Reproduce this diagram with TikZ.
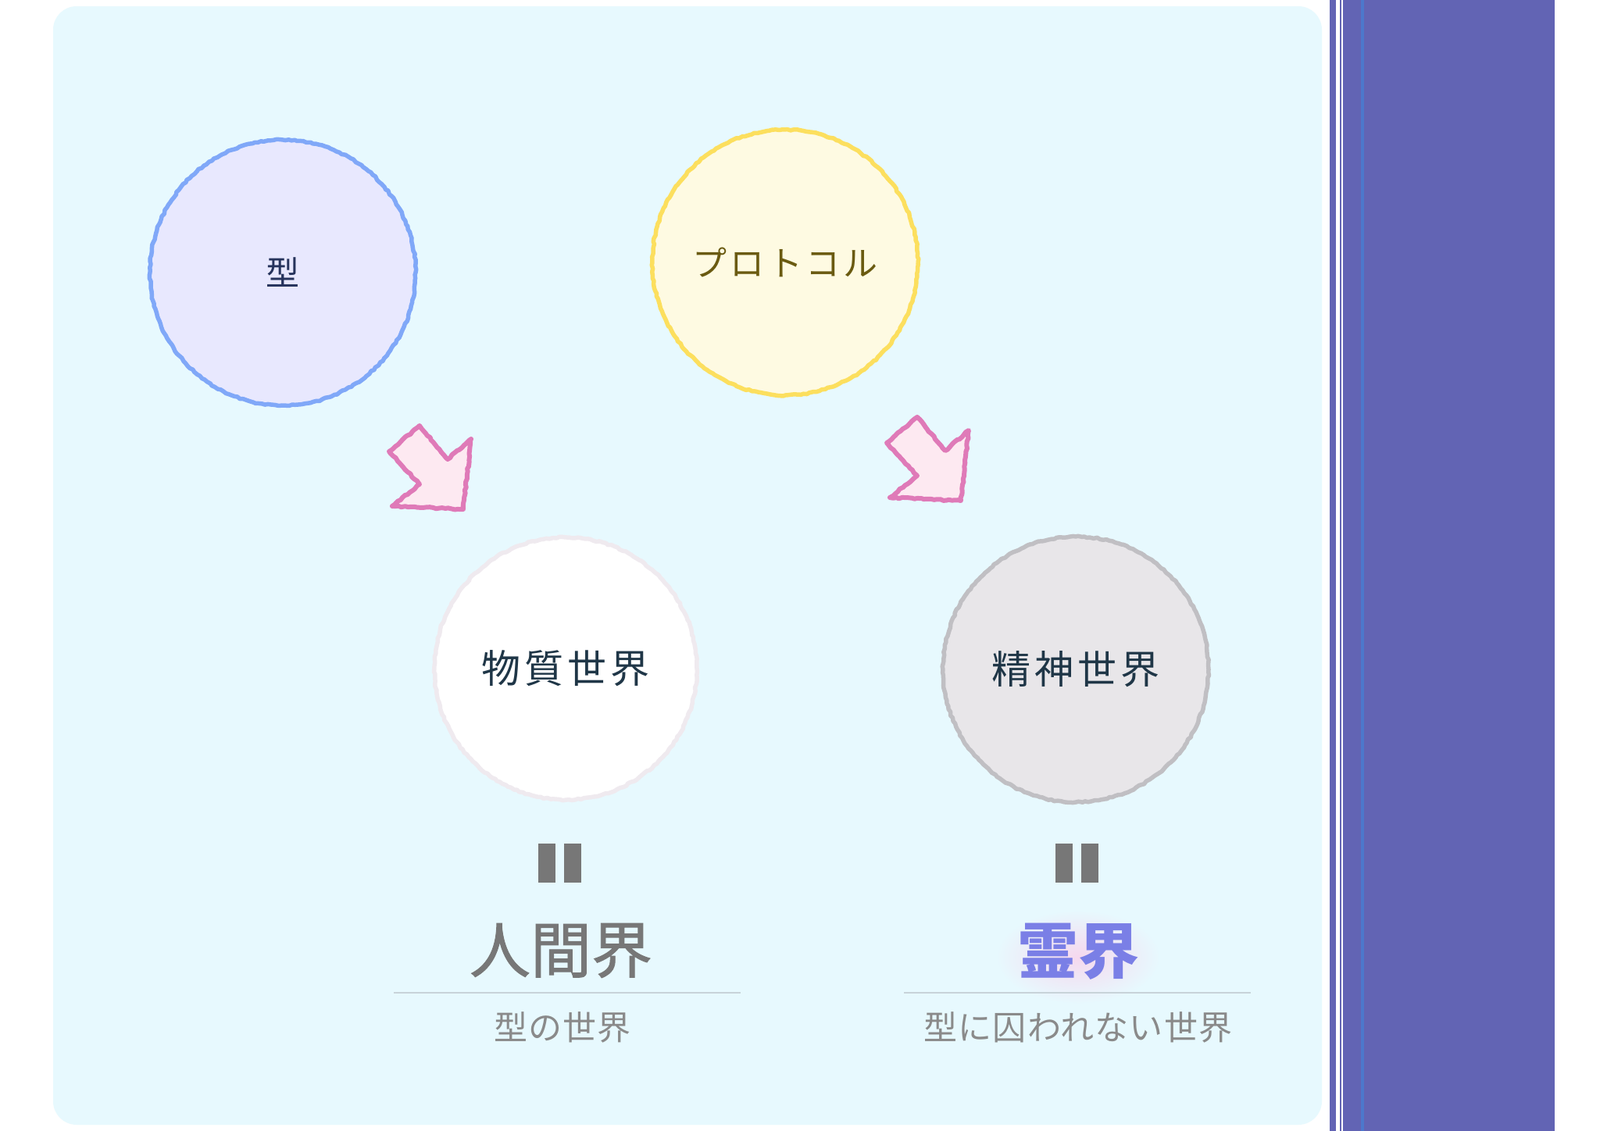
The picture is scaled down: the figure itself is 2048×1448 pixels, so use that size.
\documentclass[tikz,border=0pt]{standalone}
\usepackage{fontspec}
\setmainfont{Noto Sans CJK JP}
\newfontfamily\jpwide[LetterSpace=10]{Noto Sans CJK JP}
\newfontfamily\jpsub[LetterSpace=3]{Noto Sans CJK JP}
\newfontfamily\jpfat[FakeBold=1.2]{Noto Sans CJK JP}
\usetikzlibrary{decorations.pathmorphing}
\definecolor{panelbg}{HTML}{E7F9FE}
\definecolor{bandpurple}{HTML}{6264B4}
\definecolor{bandblue}{HTML}{4C78CC}
\definecolor{kataline}{HTML}{80A8F8}
\definecolor{katafill}{HTML}{E8E8FE}
\definecolor{katatext}{HTML}{26335C}
\definecolor{protoline}{HTML}{FCDF5E}
\definecolor{protofill}{HTML}{FEFAE2}
\definecolor{prototext}{HTML}{6A5A10}
\definecolor{matline}{HTML}{EFEAEF}
\definecolor{matfill}{HTML}{FFFFFF}
\definecolor{spline}{HTML}{C0BFC3}
\definecolor{spfill}{HTML}{E8E6E9}
\definecolor{worldtext}{HTML}{1F3647}
\definecolor{arrowline}{HTML}{DF7AB8}
\definecolor{arrowfill}{HTML}{FDE9F1}
\definecolor{eqgray}{HTML}{777777}
\definecolor{subgray}{HTML}{8A8A8A}
\definecolor{rulegray}{HTML}{C8D3D9}
\definecolor{reikai}{HTML}{7A7FE6}
\definecolor{glow}{HTML}{F6D8EE}
\begin{document}
\begin{tikzpicture}[x=1pt,y=-1pt,
  crayon/.style={decorate, decoration={random steps, segment length=4pt, amplitude=0.9pt}},
  bubble/.style={circle, inner sep=0pt, minimum size=340pt, line width=5.5pt, line join=round, crayon},
  bubbletext/.style={font=\jpwide\fontsize{50}{60}\selectfont, text=worldtext},
  bigtext/.style={font=\fontsize{78}{90}\selectfont},
  subtext/.style={font=\jpsub\fontsize{43}{50}\selectfont, text=subgray},
  arrowshape/.style={draw=arrowline, fill=arrowfill, line width=6pt, line join=round, crayon},
  pics/pinkarrow/.style={code={
    \draw[arrowshape] (-56,-107) -- (-95,-74) -- (-56,-32) -- (-91,-4) -- (0,0) -- (10,-90) -- (-20,-64) -- cycle;
  }}
]
\useasboundingbox (0,0) rectangle (2048,1448);
\fill[white] (0,0) rectangle (2048,1448);
% panel
\fill[panelbg, rounded corners=30pt] (68,8) rectangle (1692,1440);
% right band
\fill[bandpurple] (1702,0) rectangle (1990,1448);
\fill[white] (1710,0) rectangle (1719,1448);
\fill[bandpurple] (1715,0) rectangle (1717,1448);
\fill[bandblue] (1742,0) rectangle (1746,1448);

% circles
\node[bubble, draw=kataline, fill=katafill] (kata) at (362,349)
  {\fontsize{43}{50}\selectfont\color{katatext}型};
\node[bubble, draw=protoline, fill=protofill] (proto) at (1005,336)
  {\jpwide\fontsize{44}{50}\selectfont\color{prototext}プロトコル};
\node[bubble, minimum size=336pt, draw=matline, fill=matfill] (mat) at (724,856)
  [bubbletext] {物質世界};
\node[bubble, draw=spline, fill=spfill] (spirit) at (1377,857)
  [bubbletext] {精神世界};

% arrows
\pic at (593,652) {pinkarrow};
\pic at (1230,641) {pinkarrow};

% equals bars
\fill[eqgray] (689,1080) rectangle (711,1130);
\fill[eqgray] (722,1080) rectangle (744,1130);
\fill[eqgray] (1351,1080) rectangle (1373,1130);
\fill[eqgray] (1384,1080) rectangle (1406,1130);

% glow behind reikai
\shade[inner color=glow, outer color=panelbg] (1380,1225) ellipse (105pt and 60pt);

% big labels
\node[bigtext, text=eqgray, font=\jpfat\fontsize{78}{90}\selectfont] (ningen) at (718,1217) {人間界};
\node[bigtext, text=reikai, font=\bfseries\fontsize{78}{90}\selectfont] (rei) at (1380,1218) {霊界};

% rules
\coordinate (l1) at (504,1271); \coordinate (l2) at (948,1271);
\coordinate (r1) at (1157,1271); \coordinate (r2) at (1601,1271);
\draw[rulegray, line width=2pt] (l1) -- (l2);
\draw[rulegray, line width=2pt] (r1) -- (r2);

% subtitles
\node[subtext] (sub1) at (720,1315) {型の世界};
\node[subtext] (sub2) at (1380,1315) {型に囚われない世界};
\end{tikzpicture}
\end{document}
